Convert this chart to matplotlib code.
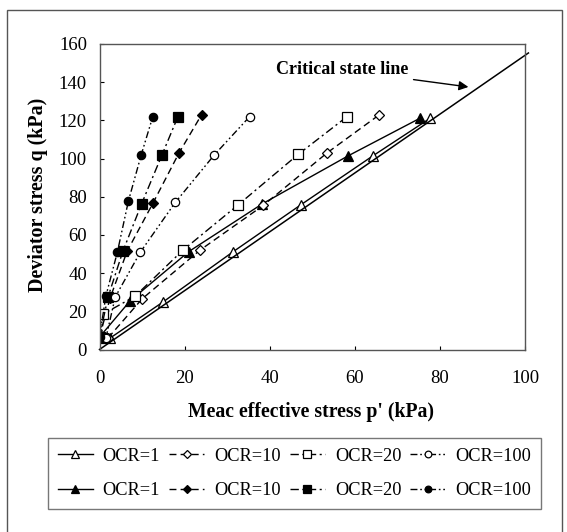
import matplotlib
matplotlib.use("Agg")
import matplotlib.pyplot as plt
from matplotlib.patches import Rectangle

plt.rcParams['font.family'] = ['Liberation Serif', 'DejaVu Serif']

# ---- data (p', q) in kPa ----
open1_p = [2.5, 15, 31.4, 47.4, 64.3, 77.7]
open1_q = [6, 25, 51.2, 75.9, 101.5, 121.1]
fill1_p = [0, 7.2, 21, 38.2, 58.5, 75.3]
fill1_q = [6.5, 25.5, 51.3, 76.2, 101.5, 121.1]

open10_p = [2, 10, 23.6, 38.5, 53.5, 65.8]
open10_q = [6, 26.5, 52, 75.5, 103, 123]
fill10_p = [0, 2.5, 6.5, 12.6, 18.7, 24]
fill10_q = [6.5, 27, 51.5, 76.8, 103, 123]

open20_p = [0.5, 0.8, 8.3, 19.6, 32.5, 46.7, 58.2]
open20_q = [6, 18.5, 27.8, 52, 75.6, 102.2, 122]
fill20_p = [0, 2, 5.5, 9.9, 14.7, 18.4]
fill20_q = [6.5, 27.5, 51.5, 76.3, 102, 121.8]

open100_p = [1.5, 3.7, 9.6, 17.8, 26.9, 35.3]
open100_q = [6, 27.5, 51, 77, 101.7, 122]
fill100_p = [0, 1.5, 4.2, 6.8, 9.8, 12.5]
fill100_q = [6.5, 28, 51, 77.8, 101.9, 121.8]

csl_p = [0, 100.8]
csl_q = [0, 155.3]

labels = ['OCR=1', 'OCR=10', 'OCR=20', 'OCR=100']
xticks = [0, 20, 40, 60, 80, 100]
yticks = [0, 20, 40, 60, 80, 100, 120, 140, 160]

# ---- figure ----
fig = plt.figure(figsize=(5.67, 5.32), dpi=100)
ax = fig.add_axes([99.5/567, 1-349.5/532, (525-99.5)/567, (349.5-44)/532])

ls_solid = '-'
ls_dash = (0, (5, 3))
ls_dashdot = (0, (6, 2.5, 1.5, 2.5))
ls_dashdotdot = (0, (5, 2, 1.2, 2, 1.2, 2))

series = [
    (open1_p, open1_q, fill1_p, fill1_q, '^', ls_solid),
    (open10_p, open10_q, fill10_p, fill10_q, 'D', ls_dash),
    (open20_p, open20_q, fill20_p, fill20_q, 's', ls_dashdot),
    (open100_p, open100_q, fill100_p, fill100_q, 'o', ls_dashdotdot),
]
msz = {'^': 6.5, 'D': 5, 's': 7, 'o': 6}

handles = []
hlabels = []
for (op, oq, fp, fq, mk, ls), lab in zip(series, labels):
    h1, = ax.plot(op, oq, linestyle=ls, color='black', lw=1.0, marker=mk,
                  ms=msz[mk], mfc='white', mec='black', mew=0.9)
    h2, = ax.plot(fp, fq, linestyle=ls, color='black', lw=1.0, marker=mk,
                  ms=msz[mk], mfc='black', mec='black', mew=0.9)
    handles += [h1, h2]
    hlabels += [lab, lab]

ax.plot(csl_p, csl_q, color='black', lw=1.1, clip_on=False)

ax.annotate('Critical state line', xy=(86.7, 137.5), xytext=(72.5, 146.4),
            ha='right', va='center', fontsize=13, fontweight='bold',
            arrowprops=dict(arrowstyle='-|>', color='black', lw=1.0,
                            mutation_scale=14, shrinkA=2, shrinkB=0))

ax.set_xlim(0, 100)
ax.set_ylim(0, 160)
ax.set_xticks(xticks)
ax.set_yticks(yticks)
ax.tick_params(axis='x', direction='in', length=3, pad=15, labelsize=13.5)
ax.tick_params(axis='y', direction='in', length=3, pad=9, labelsize=13.5)
for s in ax.spines.values():
    s.set_color('#555555')
    s.set_linewidth(1.0)

fig.text(311/567, 1-412/532, "Meac effective stress p' (kPa)", ha='center',
         va='center', fontsize=14.2, fontweight='bold')
fig.text(38/567, 1-195/532, "Deviator stress q (kPa)", ha='center',
         va='center', rotation=90, fontsize=14.4, fontweight='bold')

leg = fig.legend(handles, hlabels, ncol=4, loc='center',
                 bbox_to_anchor=(294.5/567, 1-473.5/532), fontsize=13.2,
                 frameon=True, fancybox=False, edgecolor='#555555',
                 handlelength=1.9, columnspacing=0.5, handletextpad=0.55,
                 borderpad=0.55, labelspacing=0.95, markerscale=0.8)
leg.get_frame().set_linewidth(1.0)

fig.patches.append(Rectangle((7/567, -0.02), (562-7)/567, 1-10/532+0.02,
                             transform=fig.transFigure, fill=False,
                             edgecolor='#555555', lw=1.0))

fig.savefig('out.png', dpi=100)
